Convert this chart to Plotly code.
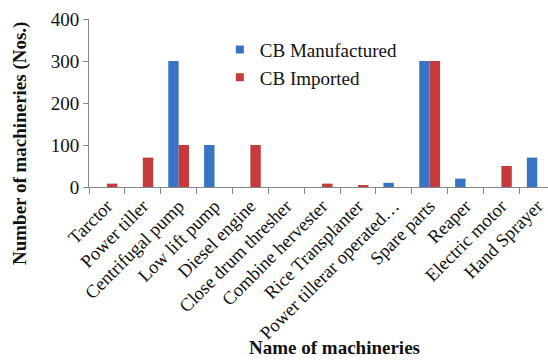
import plotly.graph_objects as go

# Machinery categories and counts
machineries = [
    "Tarctor", "Power tiller", "Centrifugal pump", "Low lift pump",
    "Diesel engine", "Close drum thresher", "Combine hervester",
    "Rice Transplanter", "Power tillerar operated\u2026", "Spare parts",
    "Reaper", "Electric motor", "Hand Sprayer",
]
cb_manufactured = [0, 0, 300, 100, 0, 0, 0, 0, 10, 300, 20, 0, 70]
cb_imported = [8, 70, 100, 0, 100, 0, 8, 4, 0, 300, 0, 50, 0]
y_ticks = [0, 100, 200, 300, 400]

BLUE = "#3873c4"
RED = "#c53a3a"
AXIS = "#868686"
SERIF = "Liberation Serif"

W, H = 548, 360
L, T, B = 89, 19, 173
plot_w = W - L
plot_h = H - T - B

fig = go.Figure()
fig.add_trace(go.Bar(x=machineries, y=cb_manufactured, name="CB Manufactured",
                     marker=dict(color=BLUE, line=dict(width=0)), showlegend=False))
fig.add_trace(go.Bar(x=machineries, y=cb_imported, name="CB Imported",
                     marker=dict(color=RED, line=dict(width=0)), showlegend=False))

# legend entries with small square swatches
for name, col in [("CB Manufactured", BLUE), ("CB Imported", RED)]:
    fig.add_trace(go.Scatter(x=[None], y=[None], mode="markers", name=name,
                             marker=dict(symbol="square", size=8, color=col)))

fig.update_layout(
    width=W, height=H,
    margin=dict(l=L, r=0, t=T, b=B, pad=0),
    paper_bgcolor="white", plot_bgcolor="white",
    barmode="group", bargap=0.42, bargroupgap=0,
    font=dict(family=SERIF, size=19, color="#111111"),
    showlegend=True,
    legend=dict(x=0.285, y=0.93, xanchor="left", yanchor="top",
                bgcolor="rgba(0,0,0,0)", font=dict(size=19, family=SERIF),
                tracegroupgap=0, itemwidth=30),
    xaxis=dict(
        type="category", range=[-0.5, 12.3],
        showline=True, linecolor=AXIS, linewidth=1,
        ticks="outside", tickson="boundaries", ticklen=6, tickcolor=AXIS,
        tickangle=-45, tickfont=dict(size=18.5, family=SERIF, color="#111111"),
        showgrid=False, zeroline=False, automargin=False,
    ),
    yaxis=dict(
        range=[0, 400], tickvals=y_ticks,
        showline=True, linecolor=AXIS, linewidth=1,
        ticks="outside", ticklen=5, tickcolor=AXIS,
        tickfont=dict(size=19, family=SERIF, color="#111111"),
        showgrid=False, zeroline=False, automargin=False,
    ),
    annotations=[
        dict(text="<b>Number of machineries (Nos.)</b>", textangle=-90,
             xref="paper", yref="paper", x=(20 - L) / plot_w, y=(T + plot_h - 144) / plot_h,
             xanchor="center", yanchor="middle", showarrow=False,
             font=dict(size=19, family=SERIF, color="#111111")),
        dict(text="<b>Name of machineries</b>",
             xref="paper", yref="paper", x=(334 - L) / plot_w, y=(T + plot_h - 347) / plot_h,
             xanchor="center", yanchor="middle", showarrow=False,
             font=dict(size=19, family=SERIF, color="#111111")),
    ],
)

fig.write_html("out.html")
